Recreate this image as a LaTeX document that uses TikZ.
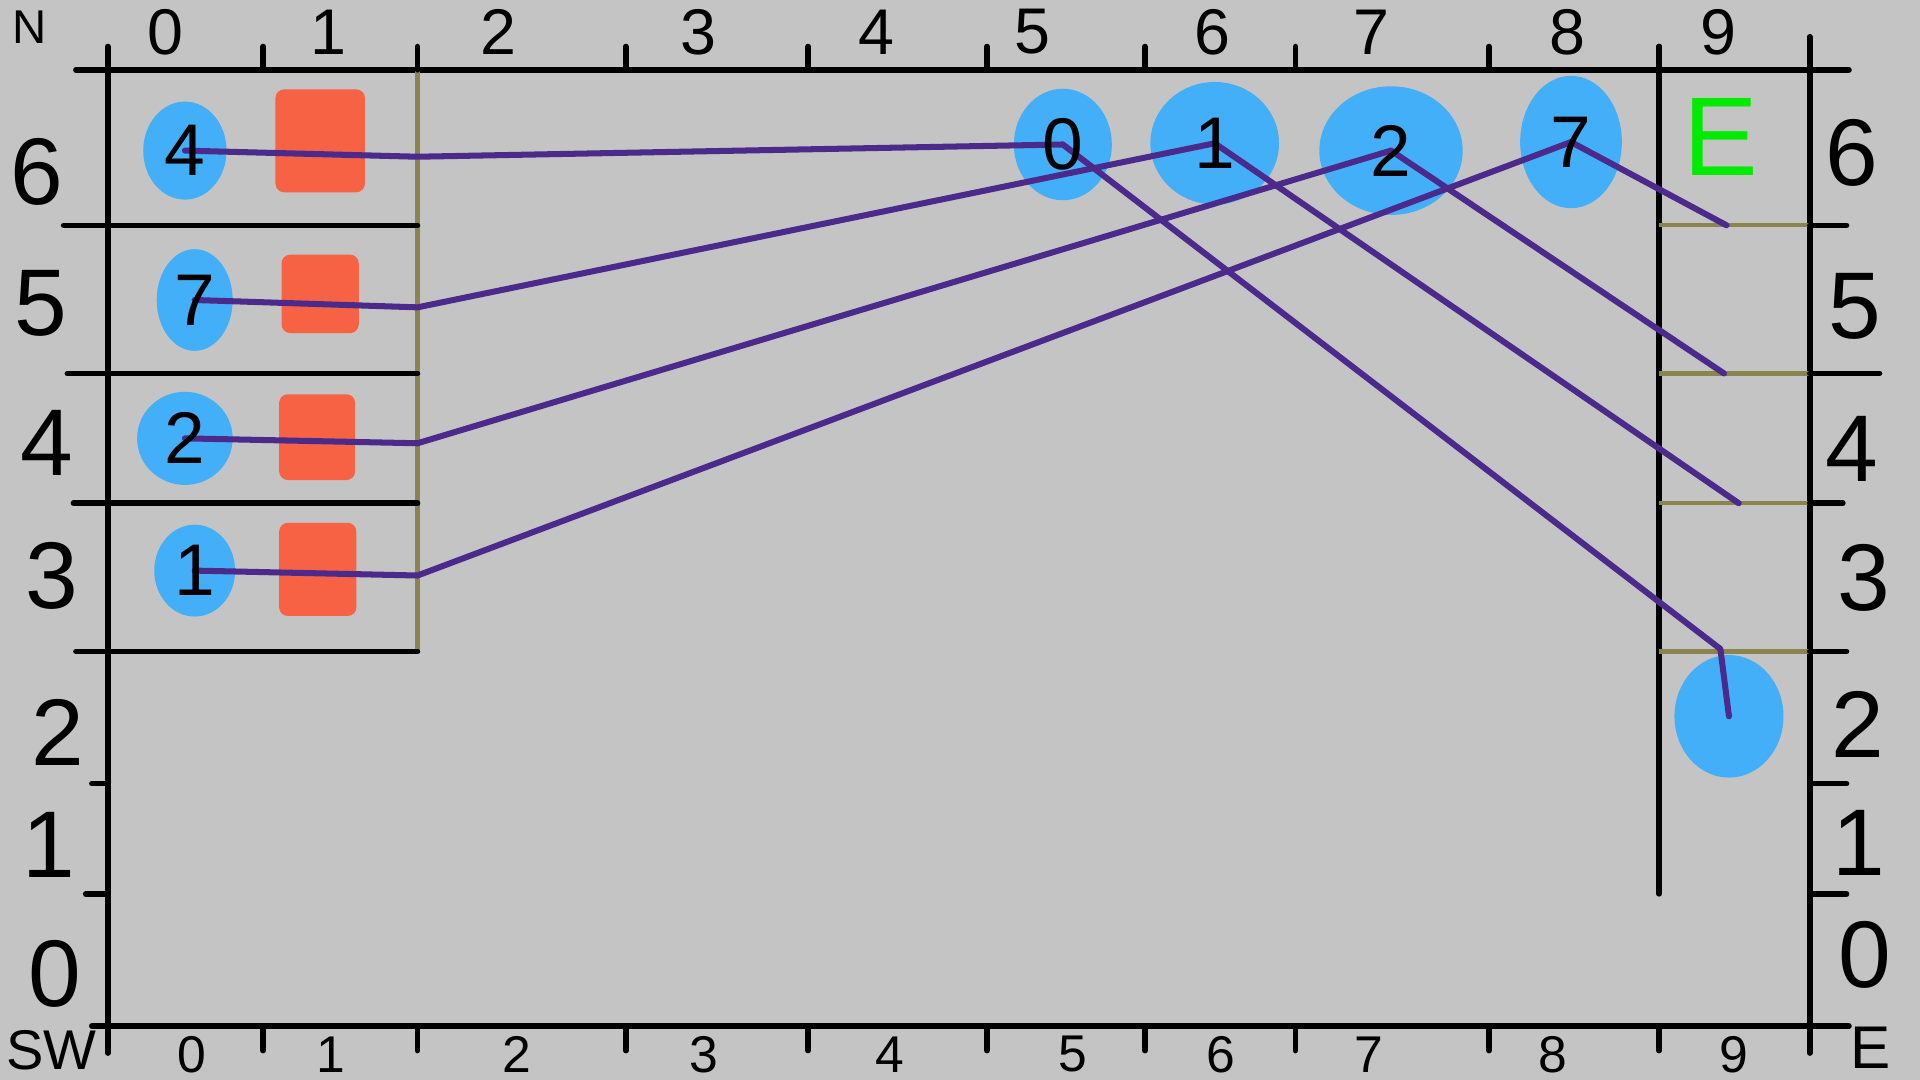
\documentclass[tikz,border=0pt]{standalone}
\usepackage{fontspec}
\setmainfont{Liberation Sans}
\usetikzlibrary{shapes.geometric}
\definecolor{paper}{RGB}{196,196,196}
\definecolor{blobblue}{RGB}{66,175,248}
\definecolor{crateorange}{RGB}{248,98,68}
\definecolor{ropepurple}{RGB}{75,42,140}
\definecolor{railolive}{RGB}{138,132,78}
\definecolor{exitgreen}{RGB}{0,235,0}
\tikzset{
  gridline/.style={line width=1.3pt, black, line cap=round},
  railline/.style={line width=1pt, railolive},
  link/.style={line width=1.4pt, ropepurple, line cap=round, line join=round},
  token/.style={ellipse, fill=blobblue, inner sep=0pt, font=\fontsize{17}{17}\selectfont},
  cratebox/.style={fill=crateorange, rounded corners=2pt, inner sep=0pt},
  toplabel/.style={font=\fontsize{15}{15}\selectfont},
  botlabel/.style={font=\fontsize{12}{12}\selectfont},
  sidelabel/.style={font=\fontsize{22}{22}\selectfont}
}

\begin{document}
\begin{tikzpicture}[x=0.01cm, y=-0.01cm]
  \fill[paper] (0,0) rectangle (1568,882);
  \useasboundingbox (0,0) rectangle (1568,882);

  % frame
  \draw[gridline] (62,57) -- (1510,57);
  \draw[gridline] (75,838) -- (1510,838);
  \draw[gridline] (88,40) -- (88,860);
  \draw[gridline] (1478,30) -- (1478,860);
  \draw[gridline] (1355,38) -- (1355,730);
  \draw[railline] (341,57) -- (341,533);

  \foreach \x in {88,215,341,511,660,806,935,1058,1216,1355,1478} {
    \draw[gridline] (\x,38) -- (\x,57);
    \draw[gridline] (\x,838) -- (\x,858);
  }

  \foreach \y/\s/\e in {184/52/1508,305/55/1535,411/60/1505,532/62/1508} {
    \draw[gridline] (\s,\y) -- (341,\y);
    \draw[railline] (1355,\y) -- (1478,\y);
    \draw[gridline] (1478,\y) -- (\e,\y);
  }
  \draw[gridline] (75,640) -- (88,640);
  \draw[gridline] (70,730) -- (88,730);
  \draw[gridline] (1478,640) -- (1508,640);
  \draw[gridline] (1478,730) -- (1508,730);

  % axis labels
  \node[font=\fontsize{11}{11}\selectfont] (north) at (24,22) {N};
  \node[font=\fontsize{13}{13}\selectfont] (southwest) at (42,858) {SW};
  \node[font=\fontsize{14}{14}\selectfont] (east) at (1528,856) {E};
  \foreach \x/\n in {135/0,268/1,407/2,570/3,716/4,843/5,990/6,1120/7,1280/8,1403/9}
    \node[toplabel] (top\n) at (\x,26) {\n};
  \foreach \x/\n in {157/0,270/1,422/2,575/3,727/4,876/5,997/6,1118/7,1268/8,1416/9}
    \node[botlabel] (bot\n) at (\x,861) {\n};
  \foreach \x/\y/\n in {30/140/6,33/248/5,38/362/4,42/470/3,47/598/2,40/690/1,45/795/0}
    \node[sidelabel] (left\n) at (\x,\y) {\n};
  \foreach \x/\y/\n in {1512/125/6,1515/250/5,1512/367/4,1522/472/3,1517/592/2,1518/688/1,1523/780/0}
    \node[sidelabel] (right\n) at (\x,\y) {\n};

  % crates
  \node[cratebox, minimum width=0.73cm, minimum height=0.84cm] (crate6) at (261.5,115) {};
  \node[cratebox, minimum width=0.63cm, minimum height=0.64cm] (crate5) at (261.5,240) {};
  \node[cratebox, minimum width=0.62cm, minimum height=0.70cm] (crate4) at (259,357) {};
  \node[cratebox, minimum width=0.63cm, minimum height=0.76cm] (crate3) at (259.5,465) {};

  % tokens
  \node[token, minimum width=0.68cm, minimum height=0.80cm] (l4) at (151,123) {};
  \node[token, minimum width=0.62cm, minimum height=0.83cm] (l7) at (159,245) {};
  \node[token, minimum width=0.78cm, minimum height=0.76cm] (l2) at (151,358) {};
  \node[token, minimum width=0.66cm, minimum height=0.75cm] (l1) at (159,466) {};
  \node[token, minimum width=0.80cm, minimum height=0.91cm] (t0) at (868,118) {};
  \node[token, minimum width=1.05cm, minimum height=1.00cm] (t1) at (992,117) {};
  \node[token, minimum width=1.17cm, minimum height=1.05cm] (t2) at (1136,123) {};
  \node[token, minimum width=0.83cm, minimum height=1.08cm] (t7) at (1283,116) {};
  \node[token, minimum width=0.89cm, minimum height=1.00cm] (out) at (1412,585) {};
  \node[font=\fontsize{26}{26}\selectfont, text=exitgreen] (exit) at (1405,112) {E};

  \coordinate (j6) at (341,128);
  \coordinate (j5) at (341,251);
  \coordinate (j4) at (341,362);
  \coordinate (j3) at (341,470);
  \coordinate (r6) at (1410,184);
  \coordinate (r5) at (1408,305);
  \coordinate (r4) at (1420,411);
  \coordinate (r3) at (1405,530);

  % links
  \draw[link] (l4.center) -- (j6) -- (t0.center);
  \draw[link] (l7.center) -- (j5) -- (t1.center);
  \draw[link] (l2.center) -- (j4) -- (t2.center);
  \draw[link] (l1.center) -- (j3) -- (t7.center);
  \draw[link] (t0.center) -- (r3) -- (out.center);
  \draw[link] (t1.center) -- (r4);
  \draw[link] (t2.center) -- (r5);
  \draw[link] (t7.center) -- (r6);

  \foreach \n/\t in {l4/4,l7/7,l2/2,l1/1,t0/0,t1/1,t2/2,t7/7}
    \node[font=\fontsize{17}{17}\selectfont] (\n txt) at (\n) {\t};
\end{tikzpicture}
\end{document}
